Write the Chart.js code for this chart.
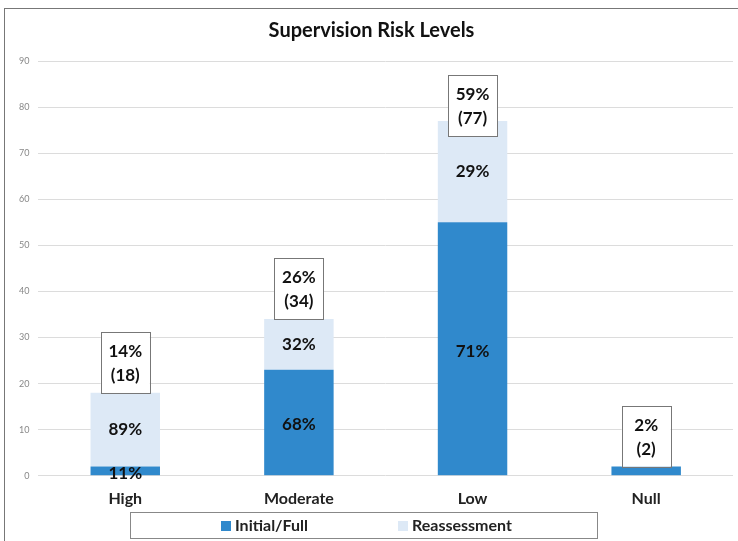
<!DOCTYPE html>
<html>
<head>
<meta charset="utf-8">
<script src="https://cdn.jsdelivr.net/npm/chart.js@4"></script>
<style>
body{margin:0;background:#fff;font-family:Lato,"Open Sans",sans-serif;}
#wrap{position:relative;width:738px;height:541px;overflow:hidden;}
#frame{position:absolute;left:4px;top:8px;width:760px;height:560px;border:1px solid #777;box-sizing:border-box;}
#c{position:absolute;left:0;top:0;}
#legend{position:absolute;left:130px;top:512px;width:468px;height:27px;border:1px solid #888;box-sizing:border-box;
  font-weight:bold;font-size:16px;color:#222;}
#legend span.sw{position:absolute;top:8px;width:10px;height:10px;}
#legend span.tx{position:absolute;top:2px;}
</style>
</head>
<body>
<div id="wrap">
<div id="frame"></div>
<canvas id="c" width="738" height="541"></canvas>
<div id="legend"></div>
</div>
<script>
// DATA
const categories=["High","Moderate","Low","Null"];
const initialFull=[2,23,55,2];
const reassessment=[16,11,22,0];
const initialPct=["11%","68%","71%",""];
const reassPct=["89%","32%","29%",""];
const sharePct=["14%","26%","59%","2%"];

const colInitial="#3089cc";
const colReass="#dde9f6";

// legend (html)
const legend=document.getElementById("legend");
legend.innerHTML=`
<span class="sw" style="left:90px;background:${colInitial}"></span><span class="tx" style="left:104px">Initial/Full</span>
<span class="sw" style="left:267px;background:${colReass}"></span><span class="tx" style="left:281px">Reassessment</span>`;

// labels plugin
const labelPlugin={
    id:"labels",
    afterDatasetsDraw(chart){
        const ctx=chart.ctx;
        const y=chart.scales.y;
        const m0=chart.getDatasetMeta(0);
        ctx.save();
        ctx.font="bold 17px Lato, 'Open Sans', sans-serif";
        ctx.fillStyle="#111";
        ctx.textAlign="center";
        ctx.textBaseline="middle";
        categories.forEach((c,i)=>{
            const x=m0.data[i].x;
            if(initialPct[i]){
                ctx.fillText(initialPct[i],x,y.getPixelForValue(initialFull[i]/2)+2);
            }
            if(reassPct[i]){
                ctx.fillText(reassPct[i],x,y.getPixelForValue(initialFull[i]+reassessment[i]/2));
            }
            // boxed total
            const total=initialFull[i]+reassessment[i];
            const w=49,h=61;
            let top=y.getPixelForValue(total)-h;
            top=Math.max(top,chart.chartArea.top+14);
            ctx.fillStyle="#fff";
            ctx.fillRect(x-w/2,top,w,h);
            ctx.strokeStyle="#777";
            ctx.lineWidth=1;
            ctx.strokeRect(Math.round(x-w/2)+0.5,Math.round(top)+0.5,w,h);
            ctx.fillStyle="#111";
            ctx.fillText(sharePct[i],x,top+h/2-11);
            ctx.fillText("("+total+")",x,top+h/2+13);
        });
        ctx.restore();
    }
};

new Chart(document.getElementById("c"),{
    type:"bar",
    data:{
        labels:categories,
        datasets:[
            {label:"Initial/Full",data:initialFull,backgroundColor:colInitial,barPercentage:0.8,categoryPercentage:0.5},
            {label:"Reassessment",data:reassessment,backgroundColor:colReass,barPercentage:0.8,categoryPercentage:0.5}
        ]
    },
    options:{
        responsive:false,
        animation:false,
        layout:{padding:{left:10,right:5,top:6,bottom:28}},
        plugins:{
            legend:{display:false},
            tooltip:{enabled:false},
            title:{display:true,text:"Supervision Risk Levels",color:"#111",
                font:{family:"Lato, 'Open Sans', sans-serif",size:20,weight:"bold"},padding:{top:13,bottom:18}}
        },
        scales:{
            x:{stacked:true,grid:{display:false},border:{display:false},
                ticks:{color:"#222",font:{family:"Lato, 'Open Sans', sans-serif",size:16,weight:"bold"},padding:5}},
            y:{stacked:true,min:0,max:90,
                ticks:{stepSize:10,color:"#888",font:{family:"Lato, 'Open Sans', sans-serif",size:9},padding:9},
                grid:{color:"#dcdcdc",drawTicks:false},border:{display:false}}
        }
    },
    plugins:[labelPlugin]
});
</script>
</body>
</html>
